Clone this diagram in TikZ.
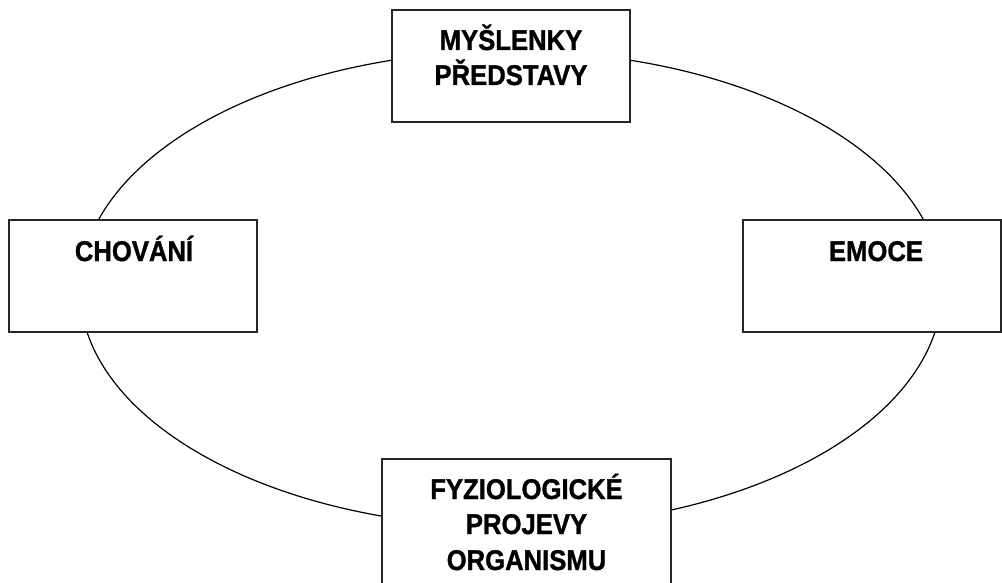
\documentclass[tikz,border=0pt]{standalone}
\usepackage{fontspec}
\setmainfont{Liberation Sans}
\newfontfamily\heavyfont{Liberation Sans Bold}[FakeBold=1.2]
\begin{document}
\begin{tikzpicture}[x=1pt,y=-1pt,
  boxnode/.style={draw=black!85, line width=1.5pt, fill=white, rectangle, inner sep=0pt},
  label/.style={font=\heavyfont\fontsize{28.5}{36}\selectfont, anchor=base, inner sep=0pt, xscale=0.9}]
\useasboundingbox (0,0) rectangle (1002,583);
\draw[line width=1.2pt] (511,289) ellipse [x radius=431pt, y radius=238pt];
\node[boxnode, minimum width=238pt, minimum height=112pt] (top) at (511,66) {};
\node[boxnode, minimum width=248pt, minimum height=112pt] (left) at (133,276) {};
\node[boxnode, minimum width=258pt, minimum height=112pt] (right) at (872,276) {};
\node[boxnode, minimum width=289pt, minimum height=141pt] (bottom) at (526.5,529.5) {};
\node[label] (t1) at (511,50) {MYŠLENKY};
\node[label] (t2) at (511,85) {PŘEDSTAVY};
\node[label] (l1) at (134,261) {CHOVÁNÍ};
\node[label] (r1) at (876,261) {EMOCE};
\node[label] (b1) at (526.5,499) {FYZIOLOGICKÉ};
\node[label] (b2) at (526.5,534) {PROJEVY};
\node[label] (b3) at (526.5,570) {ORGANISMU};
\end{tikzpicture}
\end{document}
